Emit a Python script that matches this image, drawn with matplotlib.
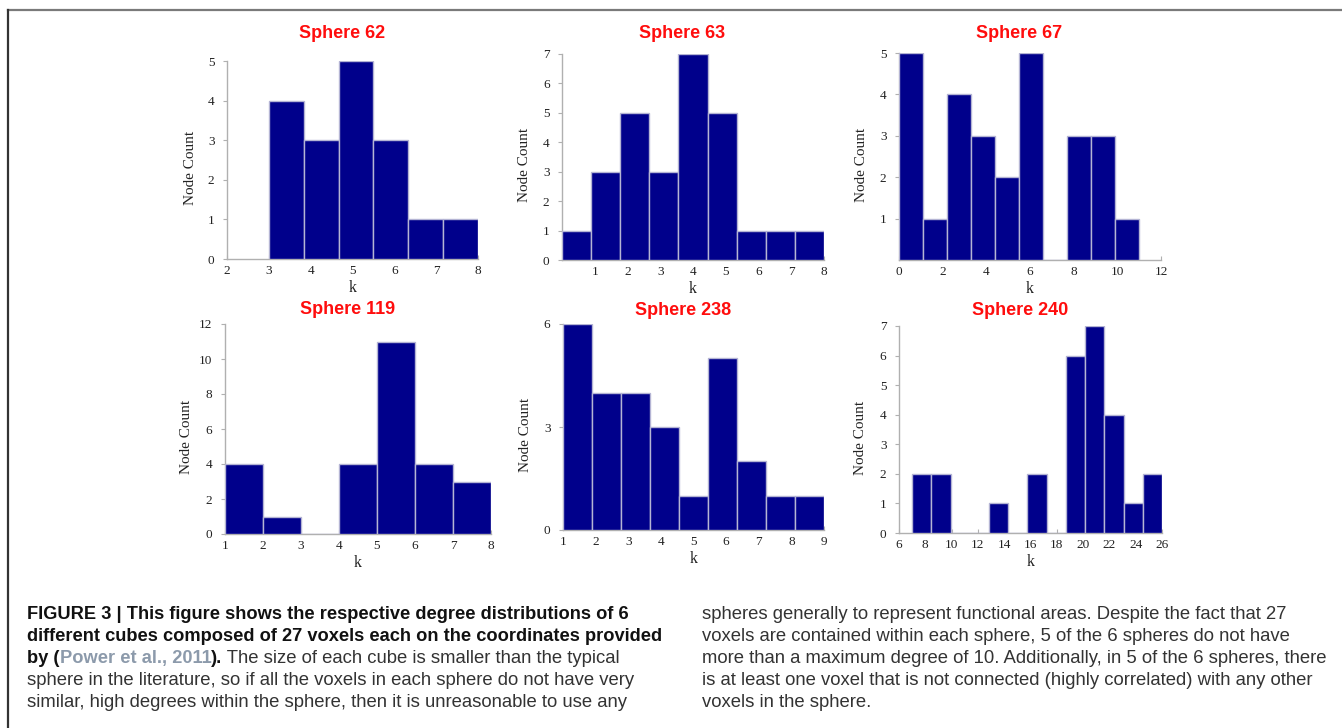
import numpy as np
import matplotlib
matplotlib.use("Agg")
import matplotlib.pyplot as plt
from matplotlib.lines import Line2D

# ---------------- data ----------------
titles = ["Sphere 62", "Sphere 63", "Sphere 67", "Sphere 119", "Sphere 238", "Sphere 240"]

counts_62 = [4, 3, 5, 3, 1, 1]
counts_63 = [1, 3, 5, 3, 7, 5, 1, 1, 1]
counts_67 = [5, 1, 4, 3, 2, 5, 0, 3, 3, 1]
counts_119 = [4, 1, 0, 4, 11, 4, 3]
counts_238 = [6, 4, 4, 3, 1, 5, 2, 1, 1]
counts_240 = [2, 2, 0, 0, 1, 0, 2, 0, 6, 7, 4, 1, 2]

bin_range_62 = (3, 8)
bin_range_63 = (0, 8)
bin_range_67 = (0, 11)
bin_range_119 = (1, 8)
bin_range_238 = (1, 9)
bin_range_240 = (7, 26)

xlim_62 = (2, 8)
xlim_63 = (0, 8)
xlim_67 = (0, 12)
xlim_119 = (1, 8)
xlim_238 = (1, 9)
xlim_240 = (6, 26)

xticks_62 = [2, 3, 4, 5, 6, 7, 8]
xticks_63 = [1, 2, 3, 4, 5, 6, 7, 8]
xticks_67 = [0, 2, 4, 6, 8, 10, 12]
xticks_119 = [1, 2, 3, 4, 5, 6, 7, 8]
xticks_238 = [1, 2, 3, 4, 5, 6, 7, 8, 9]
xticks_240 = [6, 8, 10, 12, 14, 16, 18, 20, 22, 24, 26]

yticks_62 = [0, 1, 2, 3, 4, 5]
yticks_63 = [0, 1, 2, 3, 4, 5, 6, 7]
yticks_67 = [1, 2, 3, 4, 5]
yticks_119 = [0, 2, 4, 6, 8, 10, 12]
yticks_238 = [0, 3, 6]
yticks_240 = [0, 1, 2, 3, 4, 5, 6, 7]

ylim_62 = (0, 5)
ylim_63 = (0, 7)
ylim_67 = (0, 5)
ylim_119 = (0, 12)
ylim_238 = (0, 6)
ylim_240 = (0, 7)

x_label = "k"
y_label = "Node Count"

caption_left = [
    [("FIGURE 3 | This figure shows the respective degree distributions of 6", "bold", "#111111")],
    [("different cubes composed of 27 voxels each on the coordinates provided", "bold", "#111111")],
    [("by (", "bold", "#111111"), ("Power et al., 2011", "bold", "#8c9aab"), (").", "bold", "#111111"),
     (" The size of each cube is smaller than the typical", "normal", "#333333")],
    [("sphere in the literature, so if all the voxels in each sphere do not have very", "normal", "#333333")],
    [("similar, high degrees within the sphere, then it is unreasonable to use any", "normal", "#333333")],
]
caption_right = [
    "spheres generally to represent functional areas. Despite the fact that 27",
    "voxels are contained within each sphere, 5 of the 6 spheres do not have",
    "more than a maximum degree of 10. Additionally, in 5 of the 6 spheres, there",
    "is at least one voxel that is not connected (highly correlated) with any other",
    "voxels in the sphere.",
]

# ---------------- layout ----------------
W, H = 1342, 728
fig = plt.figure(figsize=(W / 100, H / 100), dpi=100)
fig.patch.set_facecolor("white")

# axes boxes in pixels: left, right, y-bottom, y-top
boxes = [
    (227, 478, 259, 61),
    (562, 824, 260, 54),
    (899, 1161, 260, 53),
    (225, 491, 534, 324),
    (563, 824, 530, 324),
    (899, 1162, 533, 326),
]

panels = [
    (counts_62, bin_range_62, xlim_62, xticks_62, yticks_62, ylim_62),
    (counts_63, bin_range_63, xlim_63, xticks_63, yticks_63, ylim_63),
    (counts_67, bin_range_67, xlim_67, xticks_67, yticks_67, ylim_67),
    (counts_119, bin_range_119, xlim_119, xticks_119, yticks_119, ylim_119),
    (counts_238, bin_range_238, xlim_238, xticks_238, yticks_238, ylim_238),
    (counts_240, bin_range_240, xlim_240, xticks_240, yticks_240, ylim_240),
]

title_y_px = [33, 33, 33, 309, 310, 310]

bar_color = "#00008B"
edge_color = "#b4b4d4"
spine_color = "#b0b0b0"
serif = ["Liberation Serif", "DejaVu Serif"]

for i, (box, panel) in enumerate(zip(boxes, panels)):
    l, r, yb, yt = box
    counts, brange, xlim, xticks, yticks, ylim = panel
    ax = fig.add_axes([l / W, 1 - yb / H, (r - l) / W, (yb - yt) / H])
    edges = np.linspace(brange[0], brange[1], len(counts) + 1)
    ax.bar(edges[:-1], counts, width=np.diff(edges), align="edge",
           color=bar_color, edgecolor=edge_color, linewidth=1.0, zorder=3)
    ax.set_xlim(*xlim)
    ax.set_ylim(*ylim)
    ax.set_xticks(xticks)
    ax.set_yticks(yticks)
    for s in ["top", "right"]:
        ax.spines[s].set_visible(False)
    for s in ["left", "bottom"]:
        ax.spines[s].set_color(spine_color)
        ax.spines[s].set_linewidth(1.0)
    ax.tick_params(axis="y", direction="out", length=3, color=spine_color, pad=6,
                   labelsize=9.5, labelcolor="#222222")
    ax.tick_params(axis="x", direction="in", length=3, color=spine_color, pad=4,
                   labelsize=9.5, labelcolor="#222222")
    for lab in ax.get_xticklabels() + ax.get_yticklabels():
        lab.set_family(serif)
    ax.set_ylabel(y_label, family=serif, fontsize=11, color="#222222")
    ax.yaxis.set_label_coords(-0.12, 0.46)
    ax.set_xlabel(x_label, family=serif, fontsize=11.5, color="#222222", labelpad=2.5)
    fig.text((l + 0.46 * (r - l)) / W, 1 - title_y_px[i] / H, titles[i],
             ha="center", va="center", color="#ff0d0d", fontsize=13,
             fontweight="bold", family=["Liberation Sans", "DejaVu Sans"])

# frame lines
fig.add_artist(Line2D([8 / W, 1.0], [1 - 10 / H, 1 - 10 / H], color="#7a7a7a",
                      linewidth=1.6, transform=fig.transFigure))
fig.add_artist(Line2D([8 / W, 8 / W], [1 - 10 / H, 0.0], color="#333333",
                      linewidth=1.6, transform=fig.transFigure))

# caption: pick sizes so reference line widths are reproduced
cap_family = ["Liberation Sans", "DejaVu Sans"]
renderer = fig.canvas.get_renderer()


def text_width(s, size, weight):
    t = fig.text(0, 0, s, fontsize=size, fontweight=weight, family=cap_family)
    w = t.get_window_extent(renderer).width
    t.remove()
    return w


bold_size = 10 * 636.0 / text_width(caption_left[1][0][0], 10, "bold")
reg_size = 10 * 630.0 / text_width(caption_right[2], 10, "normal")

line_gap = 22.0
base0 = 619
for j, pieces in enumerate(caption_left):
    y = base0 + j * line_gap
    x = 27
    for txt, wt, col in pieces:
        size = bold_size if wt == "bold" else reg_size
        t = fig.text(x / W, 1 - y / H, txt, ha="left", va="baseline", fontsize=size,
                     fontweight=wt, color=col, family=cap_family)
        bb = t.get_window_extent(renderer)
        x = bb.x1

for j, txt in enumerate(caption_right):
    y = base0 + j * line_gap
    fig.text(702 / W, 1 - y / H, txt, ha="left", va="baseline", fontsize=reg_size,
             color="#333333", family=cap_family)

fig.savefig("out.png", dpi=100, facecolor="white")
